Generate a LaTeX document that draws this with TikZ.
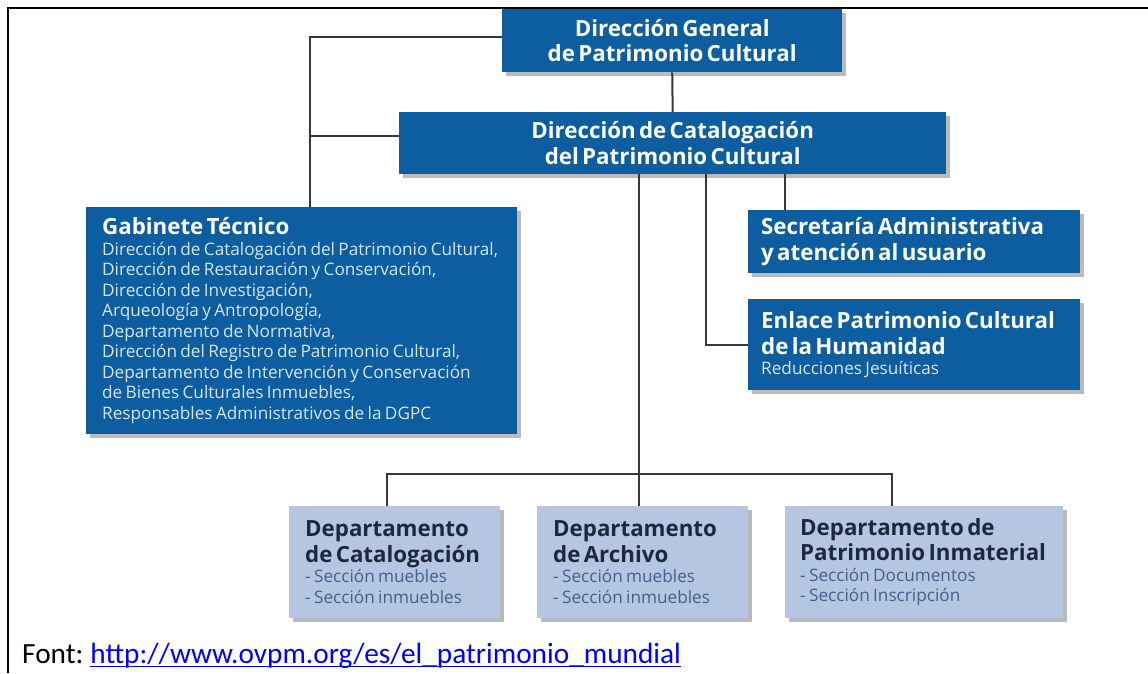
\documentclass[tikz,border=0pt]{standalone}
\usepackage{fontspec}
\usetikzlibrary{shadows}

\newfontfamily\orgfont{Open Sans}
\newfontfamily\footfont{Carlito}

\definecolor{orgblue}{RGB}{12,94,160}
\definecolor{orglight}{RGB}{181,198,226}
\definecolor{orgnavy}{RGB}{30,40,60}
\definecolor{darksub}{RGB}{214,228,243}
\definecolor{lightsub}{RGB}{70,96,140}
\definecolor{linkgray}{RGB}{55,55,55}
\definecolor{urlblue}{RGB}{0,0,255}

\def \titleSize {\fontsize{22.3}{25.5}\selectfont\bfseries}
\def \subSize {\fontsize{17.2}{20.5}\selectfont}

\tikzset{
  orgbox/.style={anchor=north west, inner xsep=16pt, inner ysep=0pt, font=\orgfont,
    drop shadow={shadow xshift=4pt, shadow yshift=-4pt, fill=black!45, opacity=.6}},
  darkbox/.style={orgbox, fill=orgblue, text=white},
  lightbox/.style={orgbox, fill=orglight, text=orgnavy},
  link/.style={draw=linkgray, line width=2pt},
}

\begin{document}
\begin{tikzpicture}[x=1pt,y=-1pt]
  \useasboundingbox (0,0) rectangle (1148,673);
  % page frame
  \draw[line width=2pt] (8,673) -- (8,8) -- (1148,8);

  % boxes
  \node[darkbox, minimum width=340pt, text width=308pt, minimum height=63pt, align=center] (dg) at (502,9)
    {\titleSize Dirección General\\ de Patrimonio Cultural\par};
  \node[darkbox, minimum width=547pt, text width=515pt, minimum height=62pt, align=center] (dc) at (399,112)
    {\titleSize Dirección de Catalogación\\ del Patrimonio Cultural\par};
  \node[darkbox, minimum width=431pt, text width=399pt, minimum height=227pt, align=left] (gab) at (86,207)
    {{\titleSize Gabinete Técnico\par}
     {\subSize\color{darksub} Dirección de Catalogación del Patrimonio Cultural,\\
      Dirección de Restauración y Conservación,\\
      Dirección de Investigación,\\
      Arqueología y Antropología,\\
      Departamento de Normativa,\\
      Dirección del Registro de Patrimonio Cultural,\\
      Departamento de Intervención y Conservación\\
      de Bienes Culturales Inmuebles,\\
      Responsables Administrativos de la DGPC\par}};
  \node[darkbox, inner xsep=13pt, minimum width=332pt, text width=306pt, minimum height=63pt, align=left] (sec) at (748,210)
    {\titleSize Secretaría Administrativa\\ y atención al usuario\par};
  \node[darkbox, inner xsep=13pt, minimum width=332pt, text width=306pt, minimum height=91pt, align=left] (enl) at (748,299)
    {{\titleSize Enlace Patrimonio Cultural\\ de la Humanidad\par}
     {\subSize\color{darksub} Reducciones Jesuíticas\par}};
  \node[lightbox, minimum width=211pt, text width=179pt, minimum height=112pt, align=left] (dep1) at (289,506)
    {{\titleSize Departamento\\ de Catalogación\par}
     {\subSize\color{lightsub} - Sección muebles\\ - Sección inmuebles\par}};
  \node[lightbox, minimum width=211pt, text width=179pt, minimum height=112pt, align=left] (dep2) at (537,506)
    {{\titleSize Departamento\\ de Archivo\par}
     {\subSize\color{lightsub} - Sección muebles\\ - Sección inmuebles\par}};
  \node[lightbox, inner xsep=15pt, minimum width=278pt, text width=248pt, minimum height=112pt, align=left] (dep3) at (785,506)
    {{\titleSize Departamento de\\ Patrimonio Inmaterial\par}
     {\subSize\color{lightsub} - Sección Documentos\\ - Sección Inscripción\par}};

  % connectors
  \coordinate (gabtop) at ([xshift=8pt]gab.north);
  \coordinate (dcleft) at ([yshift=7pt]dc.west);
  \coordinate (brA) at ([xshift=-33.5pt]dc.south);
  \coordinate (brB) at ([xshift=33.5pt]dc.south);
  \coordinate (brC) at ([xshift=112.5pt]dc.south);
  \coordinate (bus) at (0,474);
  \coordinate (d1top) at ([xshift=-7.5pt]dep1.north);
  \coordinate (d3top) at ([xshift=-32pt]dep3.north);

  \draw[link] ([yshift=4pt]dg.west) -| (gabtop);
  \draw[link] (dcleft) -- (dcleft -| gabtop);
  \draw[link] (dg.south) -- (dc.north);
  \draw[link] (brC) -- (brC |- sec.north);
  \draw[link] (brB) |- (enl.west);
  \draw[link] (brA) -- (brA |- dep2.north);
  \draw[link] (d1top) -- (d1top |- bus) -- (d3top |- bus) -- (d3top);

  % source line
  \node[anchor=base west, inner sep=0pt, font=\footfont\fontsize{29.3}{34}\selectfont] (fontlbl) at (22,663) {Font:};
  \node[anchor=base west, inner sep=0pt, text=urlblue, font=\footfont\fontsize{29.3}{34}\selectfont] (url)
    at ([xshift=6.6pt]fontlbl.base east) {http://www.ovpm.org/es/el\_patrimonio\_mundial};
  \draw[urlblue, line width=1.6pt] ([yshift=-3.5pt]url.base west) -- ([yshift=-3.5pt]url.base east);
\end{tikzpicture}
\end{document}
